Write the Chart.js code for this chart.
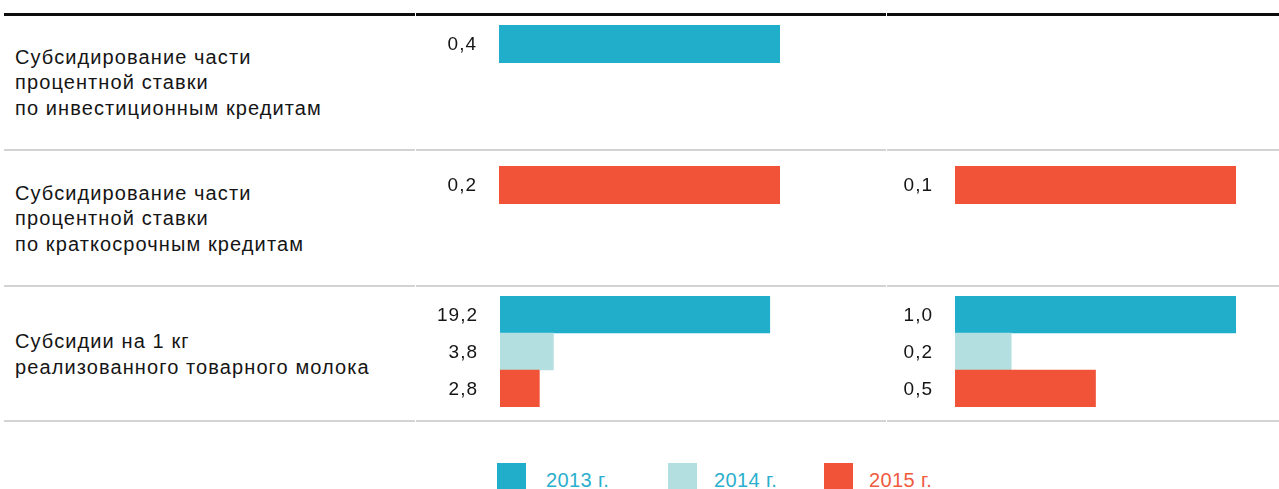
<!DOCTYPE html>
<html lang="ru">
<head>
<meta charset="utf-8">
<title>Субсидии</title>
<script src="https://cdn.jsdelivr.net/npm/chart.js@4.4.1/dist/chart.umd.min.js"></script>
<style>
  html, body { margin: 0; padding: 0; background: #fff; }
  #wrap { position: relative; width: 1279px; height: 489px; overflow: hidden;
          font-family: "Liberation Sans", Arial, Helvetica, sans-serif; color: #151515; }
  .rule { position: absolute; height: 2px; background: #d3d3d3; }
  .rule.top { height: 3px; background: #0d0d0d; }
  .rowlabel { position: absolute; left: 15px; width: 400px; display: flex; align-items: center;
              font-size: 20px; letter-spacing: 1.1px; line-height: 25.5px; }
  .cell { position: absolute; }
  .legend-item { position: absolute; top: 463px; display: flex; align-items: flex-start; }
  .legend-item .sw { width: 29px; height: 29px; }
  .legend-item .tx { font-size: 20px; letter-spacing: 0.4px; line-height: 20px; margin-top: 7px; }
</style>
</head>
<body>
<div id="wrap"></div>
<script>
// Row captions
const rowNames = [
  ['Субсидирование части', 'процентной ставки', 'по инвестиционным кредитам'],
  ['Субсидирование части', 'процентной ставки', 'по краткосрочным кредитам'],
  ['Субсидии на 1 кг', 'реализованного товарного молока']
];

// Legend / series
const years = ['2013 г.', '2014 г.', '2015 г.'];

// Values, млрд руб.
const investLeft2013 = [0.4];
const shortLeft2015 = [0.2];
const shortRight2015 = [0.1];
const milkLeft = [19.2, 3.8, 2.8];   // 2013, 2014, 2015
const milkRight = [1.0, 0.2, 0.5];   // 2013, 2014, 2015

// Styling
const barColors = ['#21aecb', '#b3dfe1', '#f05337'];
const legendTextColors = ['#2aafcd', '#2aafcd', '#f05a3e'];

const wrap = document.getElementById('wrap');

// Table rules
function rule(cls, y, x1, x2) {
  const d = document.createElement('div');
  d.className = cls;
  d.style.top = y + 'px';
  d.style.left = x1 + 'px';
  d.style.width = (x2 - x1) + 'px';
  wrap.appendChild(d);
}
const colEdges = [4, 415, 886, 1279];
[[13, 'rule top'], [149, 'rule'], [285, 'rule'], [420, 'rule']].forEach(([y, cls]) => {
  for (let i = 0; i < colEdges.length - 1; i++) {
    rule(cls, y, colEdges[i] + (i ? 1 : 0), colEdges[i + 1]);
  }
});

// Row captions, vertically centred in their bands
const bands = [[15, 149], [151, 285], [287, 420]];
rowNames.forEach((lines, i) => {
  const d = document.createElement('div');
  d.className = 'rowlabel';
  d.style.top = (bands[i][0] + 1) + 'px';
  d.style.height = (bands[i][1] - bands[i][0]) + 'px';
  d.innerHTML = '<div>' + lines.join('<br>') + '</div>';
  wrap.appendChild(d);
});

// Value labels drawn left of each bar
const valueLabels = {
  id: 'valueLabels',
  afterDatasetsDraw(chart) {
    const ctx = chart.ctx;
    const ds = chart.data.datasets[0];
    const meta = chart.getDatasetMeta(0);
    ctx.save();
    ctx.font = '19px "Liberation Sans", Arial, sans-serif';
    if ('letterSpacing' in ctx) ctx.letterSpacing = '1px';
    ctx.fillStyle = '#151515';
    ctx.textAlign = 'right';
    ctx.textBaseline = 'middle';
    meta.data.forEach((bar, i) => {
      const v = ds.data[i];
      if (v == null) return;
      ctx.fillText(v.toFixed(1).replace('.', ','), chart.chartArea.left - 22, bar.y + 1);
    });
    ctx.restore();
  }
};

const LABEL_SPACE = 100;
const PANEL_W = 281;

function barCell(x, y, h, values, colors, maxValue) {
  const holder = document.createElement('div');
  holder.className = 'cell';
  holder.style.left = (x - LABEL_SPACE) + 'px';
  holder.style.top = y + 'px';
  const canvas = document.createElement('canvas');
  canvas.width = LABEL_SPACE + PANEL_W + 2;
  canvas.height = h;
  holder.appendChild(canvas);
  wrap.appendChild(holder);
  new Chart(canvas, {
    type: 'bar',
    data: {
      labels: values.map(() => ''),
      datasets: [{
        data: values,
        backgroundColor: colors,
        borderWidth: 0,
        barPercentage: 1,
        categoryPercentage: 1
      }]
    },
    options: {
      indexAxis: 'y',
      responsive: false,
      animation: false,
      layout: { padding: { left: LABEL_SPACE, right: 2, top: 0, bottom: 0 } },
      scales: {
        x: { display: false, min: 0, max: maxValue },
        y: { display: false }
      },
      plugins: { legend: { display: false }, tooltip: { enabled: false } }
    },
    plugins: [valueLabels]
  });
}

const LEFT_X = 499, RIGHT_X = 955;
barCell(LEFT_X, 25, 38, investLeft2013, [barColors[0]], 0.4);
barCell(LEFT_X, 166, 38, shortLeft2015, [barColors[2]], 0.2);
barCell(RIGHT_X, 166, 38, shortRight2015, [barColors[2]], 0.1);
barCell(LEFT_X + 1, 296, 111, milkLeft, barColors, 20);
barCell(RIGHT_X, 296, 111, milkRight, barColors, 1.0);

// Legend
const legendX = [497, 668, 824];
years.forEach((label, i) => {
  const item = document.createElement('div');
  item.className = 'legend-item';
  item.style.left = legendX[i] + 'px';
  item.innerHTML = '<div class="sw" style="background:' + barColors[i] + '"></div>' +
    '<div class="tx" style="margin-left:' + (i === 0 ? 20 : (i === 1 ? 17 : 16)) + 'px;color:' +
    legendTextColors[i] + '">' + label + '</div>';
  wrap.appendChild(item);
});
</script>
</body>
</html>
